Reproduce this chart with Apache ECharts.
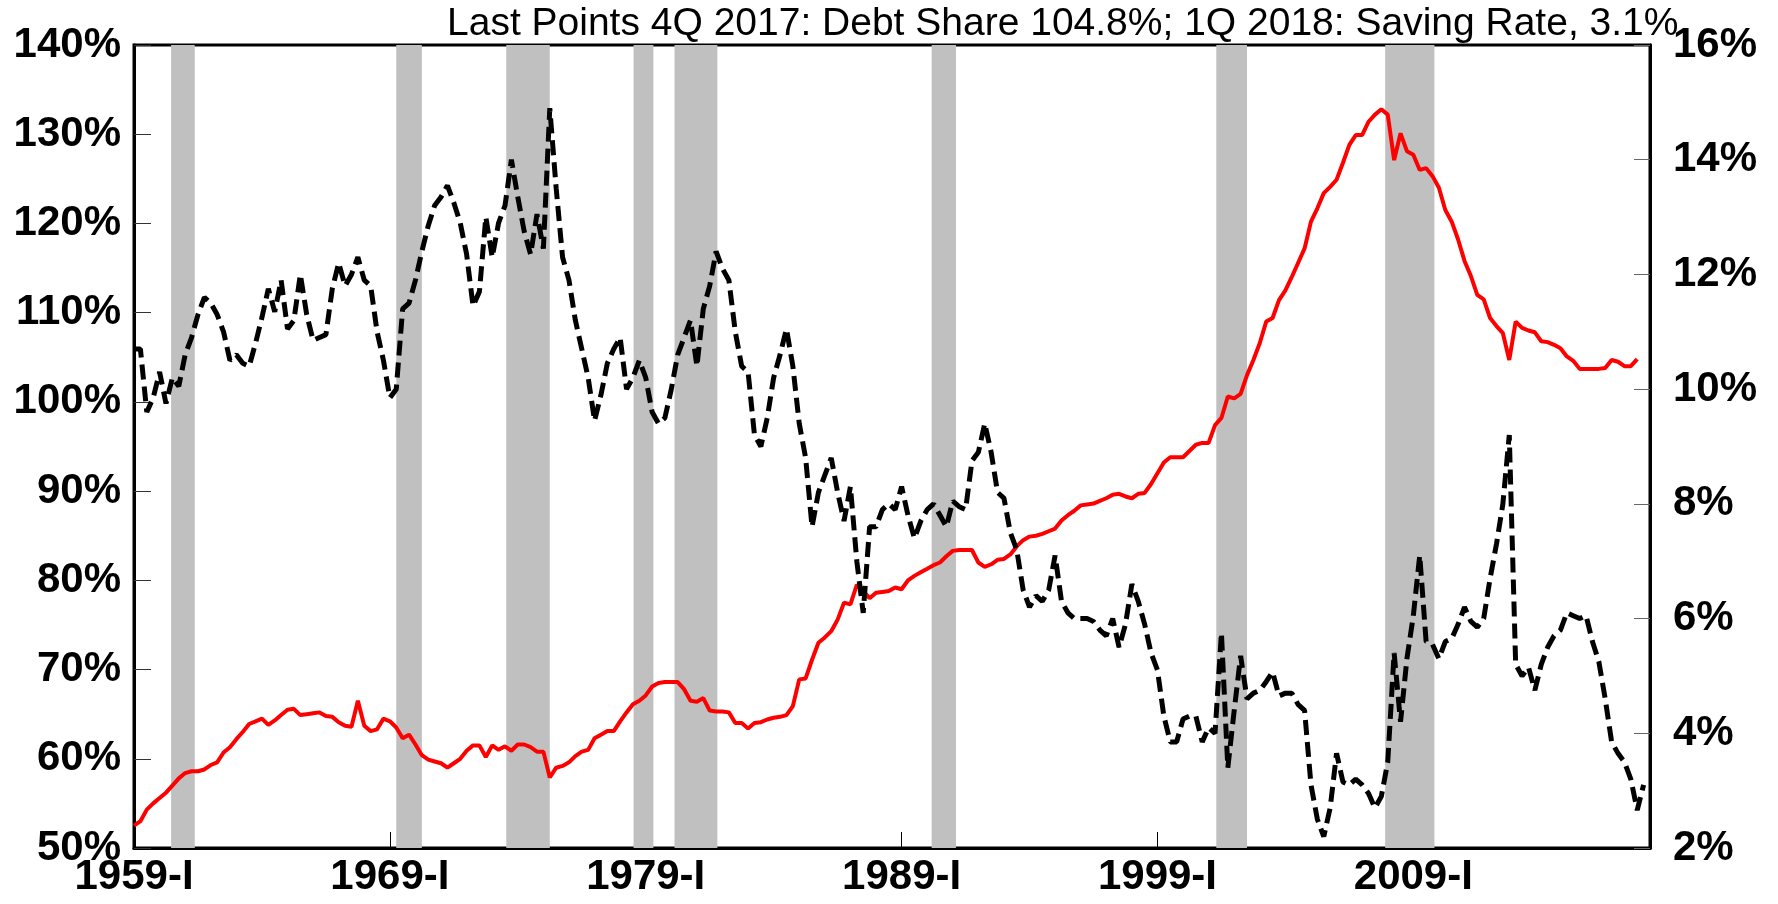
<!DOCTYPE html>
<html>
<head>
<meta charset="utf-8">
<script src="https://cdn.jsdelivr.net/npm/echarts@6/dist/echarts.min.js"></script>
<style>
  html, body { margin: 0; padding: 0; background: #fff; }
  #chart { width: 1778px; height: 904px; }
</style>
</head>
<body>
<div id="chart"></div>
<script>
// quarterly, index 0 = 1959-I
const xTickLabels = ['1959-I', '1969-I', '1979-I', '1989-I', '1999-I', '2009-I']
const titleText = 'Last Points 4Q 2017: Debt Share 104.8%; 1Q 2018: Saving Rate, 3.1%'

// household debt share of disposable income (%), 1959-I .. 2017-IV
const debtShare = [
  52.5, 53.0, 54.3, 55.0, 55.6, 56.2, 57.0, 57.8, 58.4, 58.6,
  58.6, 58.8, 59.3, 59.6, 60.7, 61.3, 62.2, 63.0, 63.9, 64.2,
  64.5, 63.8, 64.3, 64.9, 65.5, 65.6, 64.9, 65.0, 65.1, 65.2,
  64.8, 64.7, 64.1, 63.7, 63.6, 66.5, 63.7, 63.1, 63.3, 64.5,
  64.2, 63.5, 62.3, 62.7, 61.6, 60.4, 59.9, 59.7, 59.5, 59.0,
  59.5, 60.0, 60.9, 61.5, 61.5, 60.2, 61.5, 61.0, 61.4, 60.9,
  61.6, 61.6, 61.3, 60.8, 60.8, 57.9, 59.0, 59.2, 59.6, 60.3,
  60.8, 61.0, 62.3, 62.7, 63.1, 63.1, 64.2, 65.2, 66.1, 66.5,
  67.1, 68.1, 68.5, 68.6, 68.6, 68.6, 67.8, 66.5, 66.4, 66.8,
  65.4, 65.3, 65.3, 65.2, 64.0, 64.0, 63.4, 64.0, 64.1, 64.4,
  64.6, 64.7, 64.9, 65.9, 68.9, 69.0, 71.1, 73.0, 73.6, 74.3,
  75.6, 77.5, 77.3, 79.5, 78.8, 78.0, 78.6, 78.7, 78.8, 79.2,
  79.0, 80.0, 80.5, 80.9, 81.3, 81.7, 82.0, 82.7, 83.3, 83.4,
  83.4, 83.4, 82.0, 81.5, 81.8, 82.3, 82.4, 82.9, 83.8, 84.5,
  84.9, 85.0, 85.2, 85.5, 85.8, 86.7, 87.3, 87.8, 88.4, 88.5,
  88.6, 88.9, 89.2, 89.6, 89.7, 89.4, 89.2, 89.7, 89.8, 90.8,
  92.0, 93.2, 93.8, 93.8, 93.8, 94.5, 95.2, 95.4, 95.4, 97.4,
  98.2, 100.6, 100.4, 100.9, 103.0, 104.7, 106.6, 109.0, 109.4, 111.4,
  112.5, 114.0, 115.6, 117.2, 120.2, 121.7, 123.4, 124.1, 124.9, 126.8,
  128.8, 129.9, 129.9, 131.4, 132.2, 132.8, 132.2, 127.1, 130.1, 128.1,
  127.7, 126.0, 126.2, 125.3, 124.0, 121.5, 120.2, 118.2, 115.8, 114.1,
  112.0, 111.5, 109.4, 108.5, 107.7, 104.7, 109.0, 108.3, 108.0, 107.8,
  106.8, 106.7, 106.4, 106.0, 105.1, 104.6, 103.7, 103.7, 103.7, 103.7,
  103.8, 104.7, 104.5, 104.0, 104.0, 104.8
]

// personal saving rate (%), 1959-I .. 2018-I
const savingRate = [
  10.7, 10.7, 9.6, 9.85, 10.3, 9.75, 10.2, 10.05, 10.6, 10.9,
  11.3, 11.6, 11.5, 11.3, 11.0, 10.5, 10.6, 10.45, 10.4, 10.8,
  11.25, 11.75, 11.35, 11.9, 11.05, 11.2, 12.0, 11.3, 10.85, 10.9,
  10.95, 11.75, 12.2, 11.8, 12.0, 12.3, 11.9, 11.8, 11.0, 10.5,
  9.85, 10.0, 11.4, 11.5, 11.9, 12.4, 12.85, 13.2, 13.35, 13.55,
  13.25, 12.9, 12.35, 11.45, 11.7, 13.0, 12.3, 12.9, 13.2, 14.0,
  13.35, 12.75, 12.35, 13.05, 12.45, 14.9, 13.5, 12.3, 11.9, 11.2,
  10.7, 10.2, 9.45, 9.9, 10.45, 10.7, 10.9, 10.0, 10.2, 10.5,
  10.2, 9.6, 9.4, 9.5, 10.0, 10.6, 10.9, 11.2, 10.4, 11.4,
  11.8, 12.4, 12.1, 11.9, 11.0, 10.4, 10.3, 9.2, 9.0, 9.5,
  10.2, 10.6, 11.05, 10.4, 9.4, 8.8, 7.6, 8.2, 8.5, 8.8,
  8.2, 7.7, 8.3, 7.0, 6.1, 7.6, 7.6, 7.9, 8.0, 7.9,
  8.3, 7.8, 7.4, 7.7, 7.9, 8.0, 7.8, 7.6, 8.05, 7.95,
  7.9, 8.75, 8.9, 9.4, 8.9, 8.2, 8.1, 7.5, 7.2, 6.5,
  6.2, 6.4, 6.3, 6.5, 7.1, 6.3, 6.1, 6.0, 6.0, 6.0,
  5.95, 5.8, 5.7, 6.0, 5.5, 5.9, 6.6, 6.3, 5.9, 5.4,
  5.1, 4.3, 3.85, 3.85, 4.25, 4.3, 4.3, 3.85, 4.1, 4.0,
  5.75, 3.4, 4.4, 5.35, 4.6, 4.7, 4.75, 4.9, 5.07, 4.65,
  4.7, 4.7, 4.5, 4.4, 3.1, 2.5, 2.2, 2.7, 3.65, 3.15,
  3.1, 3.2, 3.1, 2.95, 2.7, 2.9, 3.5, 5.4, 4.2, 5.3,
  6.05, 7.1, 5.6, 5.55, 5.3, 5.6, 5.65, 5.9, 6.2, 5.95,
  5.85, 6.0, 6.7, 7.3, 8.0, 9.2, 5.2, 5.0, 5.15, 4.75,
  5.2, 5.5, 5.7, 5.8, 6.1, 6.05, 6.0, 6.05, 5.6, 5.25,
  4.6, 3.85, 3.65, 3.5, 3.2, 2.66, 3.1
]

// recession shading, start/end in quarter index
const recessionStart = [5.8, 41.0, 58.2, 78.1, 84.5, 124.7, 169.2, 195.6]
const recessionEnd = [9.5, 45.0, 65.0, 81.2, 91.2, 128.5, 174.0, 203.3]

const chart = echarts.init(document.getElementById('chart'))

const labelFont = {
  color: '#000',
  fontFamily: 'Liberation Sans, Arial, sans-serif',
  fontWeight: 'bold',
  fontSize: 42
}

const option = {
  animation: false,
  backgroundColor: '#fff',
  title: {
    text: titleText,
    left: 442,
    top: 0,
    textStyle: {
      color: '#000',
      fontFamily: 'Liberation Sans, Arial, sans-serif',
      fontWeight: 'normal',
      fontSize: 39
    }
  },
  grid: {
    left: 134,
    right: 128,
    top: 45,
    bottom: 56,
    show: true,
    borderColor: '#000',
    borderWidth: 3
  },
  xAxis: {
    type: 'value',
    min: 0,
    max: 237,
    interval: 40,
    splitLine: { show: false },
    axisLine: { lineStyle: { color: '#000', width: 3 } },
    axisTick: { inside: true, length: 16, lineStyle: { color: '#000', width: 1 } },
    axisLabel: {
      ...labelFont,
      margin: 8,
      showMaxLabel: false,
      formatter: v => (v % 40 === 0 ? xTickLabels[v / 40] : '')
    }
  },
  yAxis: [
    {
      type: 'value',
      min: 50,
      max: 140,
      interval: 10,
      position: 'left',
      splitLine: { show: false },
      axisLine: { show: true, lineStyle: { color: '#000', width: 3 } },
      axisTick: { show: true, inside: true, length: 17, lineStyle: { color: '#333', width: 1 } },
      axisLabel: { ...labelFont, margin: 13, formatter: '{value}%' }
    },
    {
      type: 'value',
      min: 2,
      max: 16,
      interval: 2,
      position: 'right',
      splitLine: { show: false },
      axisLine: { show: true, lineStyle: { color: '#000', width: 3 } },
      axisTick: { show: true, inside: true, length: 16, lineStyle: { color: '#666', width: 1 } },
      axisLabel: { ...labelFont, margin: 23, formatter: '{value}%' }
    }
  ],
  series: [
    {
      name: 'Recessions',
      type: 'line',
      data: [],
      z: 1,
      silent: true,
      markArea: {
        silent: true,
        itemStyle: { color: '#c0c0c0' },
        data: recessionStart.map((s, i) => [{ xAxis: s }, { xAxis: recessionEnd[i] }])
      }
    },
    {
      name: 'Debt Share',
      type: 'line',
      yAxisIndex: 0,
      z: 3,
      symbol: 'none',
      lineStyle: { color: '#ff0000', width: 4 },
      data: debtShare.map((v, i) => [i, v])
    },
    {
      name: 'Saving Rate',
      type: 'line',
      yAxisIndex: 1,
      z: 4,
      symbol: 'none',
      lineStyle: { color: '#000', width: 5, type: [15, 7], cap: 'butt' },
      data: savingRate.map((v, i) => [i, v])
    }
  ]
}

chart.setOption(option)
</script>
</body>
</html>
